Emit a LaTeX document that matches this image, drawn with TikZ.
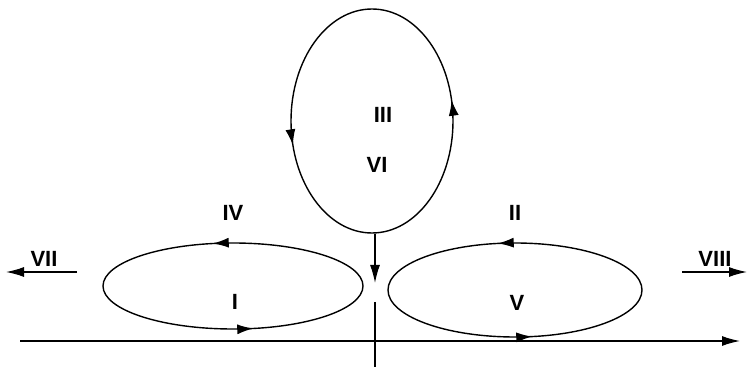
\documentclass[tikz,border=0pt]{standalone}
\usepackage{fontspec}
\setmainfont{Liberation Sans}
\usetikzlibrary{arrows.meta,decorations.markings}

\begin{document}
\begin{tikzpicture}[x=1pt,y=1pt,line width=1.4pt,
  head/.style={-{Latex[length=18pt,width=10pt]}},
  lbl/.style={font=\fontsize{22}{26}\selectfont\bfseries},
  twoarrows/.style 2 args={decoration={markings,
      mark=at position #1 with {\arrow{Latex[length=16pt,width=10pt]}},
      mark=at position #2 with {\arrow{Latex[length=16pt,width=10pt]}}},
    postaction=decorate}]
  \useasboundingbox (0,0) rectangle (748,370);
  \coordinate (Ctop) at (372,249); \coordinate (Cleft) at (233,84); \coordinate (Cright) at (515,80);
  \draw[twoarrows={0.035}{0.54}] (Ctop) ellipse [x radius=81,y radius=112];
  \draw[twoarrows={0.285}{0.785}] (Cleft) ellipse [x radius=130,y radius=43];
  \draw[twoarrows={0.28}{0.78}] (Cright) ellipse [x radius=127,y radius=47];
  % axes
  \coordinate (A) at (20,29); \coordinate (B) at (740,29);
  \coordinate (D1) at (375,136); \coordinate (D2) at (375,87); \coordinate (D3) at (375,68); \coordinate (D4) at (375,3);
  \draw[head] (A) -- (B);
  \draw[head] (D1) -- (D2); \draw (D3) -- (D4);
  \coordinate (L1) at (77,98); \coordinate (L2) at (6,98); \coordinate (R1) at (682,98); \coordinate (R2) at (747,98);
  \draw[head] (L1) -- (L2); \draw[head] (R1) -- (R2);
  % labels
  \node[lbl] (tVII) at (44,111) {VII}; \node[lbl] (tVIII) at (715,111) {VIII};
  \node[lbl] (tIV) at (233,157) {IV}; \node[lbl] (tI) at (235,68) {I};
  \node[lbl] (tII) at (515,157) {II}; \node[lbl] (tV) at (517,67) {V};
  \node[lbl] (tIII) at (383,255) {III}; \node[lbl] (tVI) at (377,205) {VI};
\end{tikzpicture}
\end{document}
